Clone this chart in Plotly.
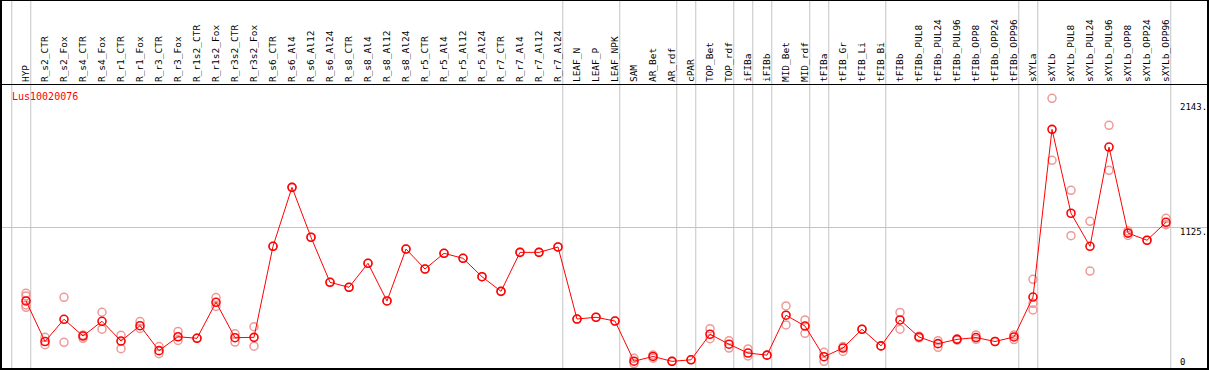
import plotly.graph_objects as go

categories = ["HYP", "R_s2_CTR", "R_s2_Fox", "R_s4_CTR", "R_s4_Fox", "R_r1_CTR", "R_r1_Fox",
              "R_r3_CTR", "R_r3_Fox", "R_r1s2_CTR", "R_r1s2_Fox", "R_r3s2_CTR", "R_r3s2_Fox",
              "R_s6_CTR", "R_s6_Al4", "R_s6_Al12", "R_s6_Al24", "R_s8_CTR", "R_s8_Al4", "R_s8_Al12",
              "R_s8_Al24", "R_r5_CTR", "R_r5_Al4", "R_r5_Al12", "R_r5_Al24", "R_r7_CTR", "R_r7_Al4",
              "R_r7_Al12", "R_r7_Al24", "LEAF_N", "LEAF_P", "LEAF_NPK", "SAM", "AR_Bet", "AR_rdf",
              "cPAR", "TOP_Bet", "TOP_rdf", "iFIBa", "iFIBb", "MID_Bet", "MID_rdf", "tFIBa",
              "tFIB_Gr", "tFIB_Li", "tFIB_Bi", "tFIBb", "tFIBb_PUL8", "tFIBb_PUL24", "tFIBb_PUL96",
              "tFIBb_OPP8", "tFIBb_OPP24", "tFIBb_OPP96", "sXYLa", "sXYLb", "sXYLb_PUL8",
              "sXYLb_PUL24", "sXYLb_PUL96", "sXYLb_OPP8", "sXYLb_OPP24", "sXYLb_OPP96"]

mean_values = [511, 170, 357, 216, 340, 174, 303, 93, 210, 197, 500, 202, 205,
               971, 1467, 1047, 668, 626, 828, 511, 948, 780, 912, 870, 715, 592, 920, 920, 965,
               359, 374, 342, 4, 44, 3, 16, 231, 147, 73, 55, 391, 300, 42,
               115, 273, 133, 351, 208, 152, 188, 203, 170, 208,
               544, 1955, 1249, 971, 1806, 1082, 1022, 1173]

replicates = [[575, 553, 477, 458], [205, 143], [542, 163], [225, 197], [416, 273], [222, 110],
              [338, 280], [128, 67], [255, 179], [199], [540, 465], [235, 165], [294, 131],
              [971], [1467], [1047], [668], [626], [828], [511], [948], [780], [912], [870], [715],
              [592], [920], [920], [965], [359], [374], [342], [28, -16], [56, 30], [3], [16],
              [278, 194], [177, 115], [107, 48], [55], [469, 309], [351, 239], [79, 3],
              [128, 86], [273], [133], [415, 273], [214, 200], [177, 121], [193, 182], [225, 188],
              [170], [224, 186], [693, 491, 435], [2216, 1694], [1442, 1060], [1181, 763],
              [1989, 1610], [1100, 1062], [1022], [1206, 1153]]

group_separators = [-1, 0, 28, 31, 34, 35, 37, 38, 39, 41, 42, 45, 52, 53, 60]
y_tick_values = [2143, 1125, 0]
y_tick_labels = ["2143.", "1125.", "0"]
gene_name = "Lus10020076"

W, H = 1209, 370
ML, MR, MT, MB = 1, 1, 85, 1
plot_w = W - ML - MR
plot_h = H - MT - MB
px_per_cat = 19.0
x_min = -(26 - ML) / px_per_cat
x_max = x_min + plot_w / px_per_cat
px_per_val = 0.11885
y_max = (361.7 - MT) / px_per_val
y_min = y_max - plot_h / px_per_val

xs = list(range(len(categories)))
rep_x, rep_y = [], []
for i, reps in enumerate(replicates):
    for v in reps:
        rep_x.append(i)
        rep_y.append(v)

fig = go.Figure()
fig.add_trace(go.Scatter(x=rep_x, y=rep_y, mode="markers",
                         marker=dict(symbol="circle-open", size=8, color="#ee9999",
                                     line=dict(width=1.5, color="#ee9999")),
                         hoverinfo="skip", showlegend=False))
fig.add_trace(go.Scatter(x=xs, y=mean_values, mode="lines+markers",
                         line=dict(color="#ff0000", width=1),
                         marker=dict(symbol="circle-open", size=8, color="#ff0000",
                                     line=dict(width=1.6, color="#ff0000")),
                         showlegend=False))

top_paper = 1 + MT / plot_h
shapes = []
for g in group_separators:
    xp = (g + 0.25 - x_min) / (x_max - x_min)
    shapes.append(dict(type="line", xref="paper", yref="paper", x0=xp, x1=xp, y0=0, y1=top_paper,
                       line=dict(color="#c4c4c4", width=1), layer="below"))
shapes.append(dict(type="rect", xref="paper", yref="paper", x0=0, x1=1, y0=0, y1=top_paper,
                   line=dict(color="black", width=2)))

annotations = [dict(text=gene_name, xref="paper", yref="paper", x=(10 - ML) / plot_w,
                    y=1 - (97 - MT) / plot_h, xanchor="left", yanchor="middle", showarrow=False,
                    font=dict(family="DejaVu Sans Mono", size=10, color="#ff0000"))]
for v, t in zip(y_tick_values, y_tick_labels):
    annotations.append(dict(text=t, xref="paper", yref="y", x=(1178 - ML) / plot_w, y=v,
                            xanchor="left", yanchor="middle", showarrow=False,
                            yshift=-4.5 if v == 1125 else 0,
                            font=dict(family="DejaVu Sans Mono", size=9, color="black")))

fig.update_layout(
    width=W, height=H, margin=dict(l=ML, r=MR, t=MT, b=MB),
    plot_bgcolor="white", paper_bgcolor="white",
    shapes=shapes, annotations=annotations,
    xaxis=dict(range=[x_min, x_max], tickvals=xs, ticktext=categories, side="top",
               tickangle=-90, ticks="", ticklen=0, showgrid=False, zeroline=False,
               showline=True, mirror=True, linecolor="black", linewidth=1, automargin=False,
               tickfont=dict(family="DejaVu Sans Mono", size=9.5, color="black")),
    yaxis=dict(range=[y_min, y_max], tickvals=[1125], showticklabels=False, showgrid=True,
               gridcolor="#c4c4c4", gridwidth=1, zeroline=False, ticks="", automargin=False,
               showline=True, mirror=True, linecolor="black", linewidth=1),
)

fig.write_html("out.html", config={"displayModeBar": False},
               post_script="document.body.style.margin='0';document.body.style.overflow='hidden';")
